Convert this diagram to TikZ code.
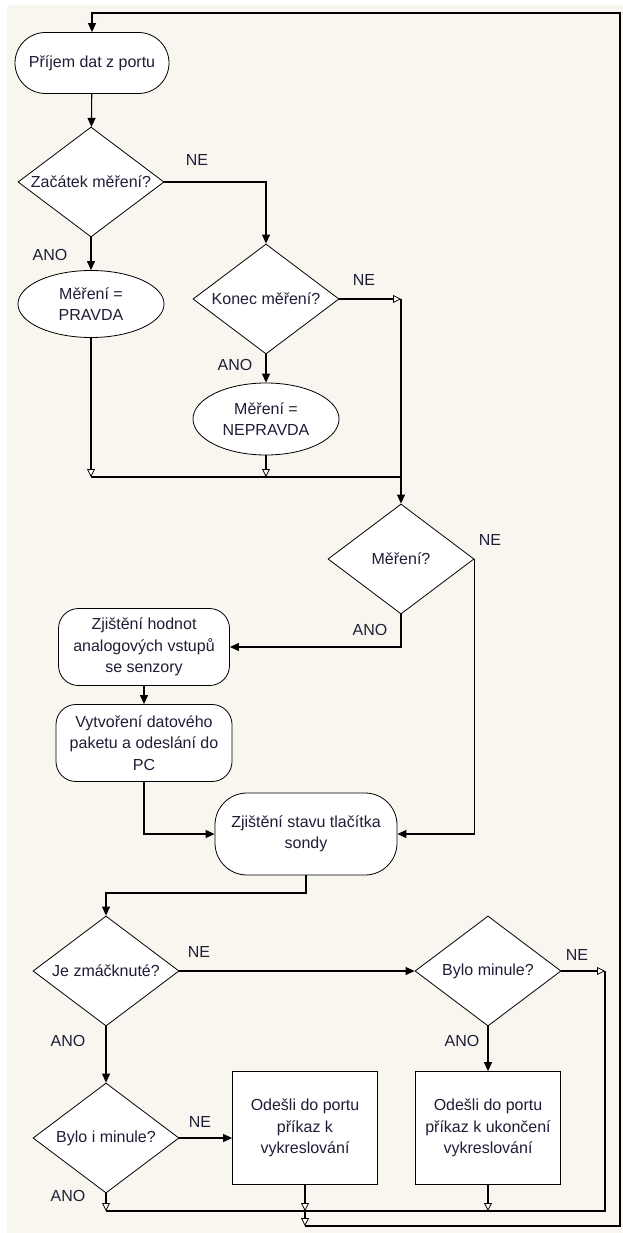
\documentclass[tikz,border=0pt]{standalone}
\usepackage{fontspec}
\setmainfont{Liberation Sans}
\usetikzlibrary{shapes.geometric,shapes.misc,arrows.meta}
\definecolor{bgcol}{HTML}{F9F6EF}
\definecolor{txtcol}{HTML}{1E1E36}

\begin{document}
\begin{tikzpicture}[x=1pt, y=-1pt,
    every node/.style={font=\fontsize{16}{21.5}\selectfont, text=txtcol, align=center},
    terminal/.style={rounded rectangle, draw, fill=white, line width=0.8pt, minimum width=158pt, minimum height=61pt, inner sep=2pt},
    process/.style={rectangle, rounded corners=20pt, draw, fill=white, line width=0.8pt, inner sep=2pt},
    decision/.style={diamond, aspect=1.33, draw, fill=white, line width=0.8pt, minimum width=146pt, minimum height=110pt, inner sep=0pt},
    state/.style={ellipse, draw, fill=white, line width=0.8pt, minimum width=146pt, inner sep=0pt},
    box/.style={rectangle, draw, fill=white, line width=0.8pt, minimum width=145pt, minimum height=113pt, inner sep=2pt},
    lbl/.style={inner sep=0pt},
    line/.style={line width=1.1pt},
    arr/.style={line, -{Triangle[width=8pt,length=9pt]}},
    oarr/.style={line, -{Triangle[open,width=8pt,length=8pt,fill=white,line width=0.8pt]}}]

    \useasboundingbox (0,0) rectangle (623,1233);
    \fill[bgcol] (7,5) rectangle (623,1233);

    % nodes
    \node[terminal] (prijem) at (92,63) {Příjem dat z portu};
    \node[decision] (zacatek) at (91,182) {Začátek měření?};
    \node[state, minimum height=67pt] (pravda) at (91,304) {Měření =\\PRAVDA};
    \node[decision] (konec) at (266,299) {Konec měření?};
    \node[state, minimum height=72pt] (nepravda) at (266,419) {Měření =\\NEPRAVDA};
    \node[decision] (mereni) at (401,559) {Měření?};
    \node[process, minimum width=171pt, minimum height=77pt] (hodnoty) at (144,647) {Zjištění hodnot\\analogových vstupů\\se senzory};
    \node[process, minimum width=176pt, minimum height=77pt] (paket) at (144,743) {Vytvoření datového\\paketu a odeslání do\\PC};
    \node[process, rounded corners=32pt, minimum width=182pt, minimum height=82pt] (tlacitko) at (306,834) {Zjištění stavu tlačítka\\sondy};
    \node[decision] (zmacknute) at (106,971) {Je zmáčknuté?};
    \node[decision] (minule) at (488,971) {Bylo minule?};
    \node[decision] (bylo) at (106,1138) {Bylo i minule?};
    \node[box] (vykres) at (305,1128) {Odešli do portu\\příkaz k\\vykreslování};
    \node[box] (ukonceni) at (488,1128) {Odešli do portu\\příkaz k ukončení\\vykreslování};

    % labels
    \node[lbl] (ne1) at (197,160) {NE};
    \node[lbl] (ano1) at (50,255) {ANO};
    \node[lbl] (ne2) at (364,280) {NE};
    \node[lbl] (ano2) at (235,365) {ANO};
    \node[lbl] (ne3) at (490,540) {NE};
    \node[lbl] (ano3) at (370,630) {ANO};
    \node[lbl] (ne4) at (199,952) {NE};
    \node[lbl] (ano4) at (68,1041) {ANO};
    \node[lbl] (ne5) at (577,955) {NE};
    \node[lbl] (ano5) at (462,1041) {ANO};
    \node[lbl] (ne6) at (200,1122) {NE};
    \node[lbl] (ano6) at (68,1196) {ANO};

    % junctions
    \coordinate (top) at (92,13);
    \coordinate (topr) at (620,13);
    \coordinate (botr) at (620,1226);
    \coordinate (ret) at (305,1226);
    \coordinate (j1) at (401,299);
    \coordinate (j2) at (91,477);
    \coordinate (j3) at (266,477);
    \coordinate (j4) at (401,477);
    \coordinate (j5) at (306,893);
    \coordinate (j6) at (605,971);
    \coordinate (k1) at (106,1211);
    \coordinate (k2) at (305,1211);
    \coordinate (k3) at (488,1211);
    \coordinate (k4) at (605,1211);

    % connectors
    \draw[arr] (ret) -- (botr) -- (topr) -- (top) -- (prijem.north);
    \draw[arr] (prijem) -- (zacatek);
    \draw[arr] (zacatek) -- (pravda);
    \draw[arr] (zacatek.east) -| (konec.north);
    \draw[arr] (konec) -- (nepravda);
    \draw[oarr] (konec.east) -- (j1);
    \draw[oarr] (pravda) -- (j2);
    \draw[oarr] (nepravda) -- (j3);
    \draw[line] (j2) -- (j4);
    \draw[arr] (j1) -- (mereni.north);
    \draw[arr] (mereni.south) |- (hodnoty.east);
    \draw[arr] (mereni.east) |- (tlacitko.east);
    \draw[arr] (hodnoty) -- (paket);
    \draw[arr] (paket.south) |- (tlacitko.west);
    \draw[arr] (tlacitko.south) -- (j5) -| (zmacknute.north);
    \draw[arr] (zmacknute) -- (minule);
    \draw[arr] (zmacknute) -- (bylo);
    \draw[arr] (bylo.east) -- (vykres.west |- bylo.east);
    \draw[arr] (minule) -- (ukonceni);
    \draw[oarr] (minule.east) -- (j6);
    \draw[oarr] (bylo.south) -- (k1);
    \draw[oarr] (vykres.south) -- (k2);
    \draw[oarr] (ukonceni.south) -- (k3);
    \draw[line] (k1) -- (k4) -- (j6);
    \draw[oarr] (k2) -- (ret);

\end{tikzpicture}
\end{document}
